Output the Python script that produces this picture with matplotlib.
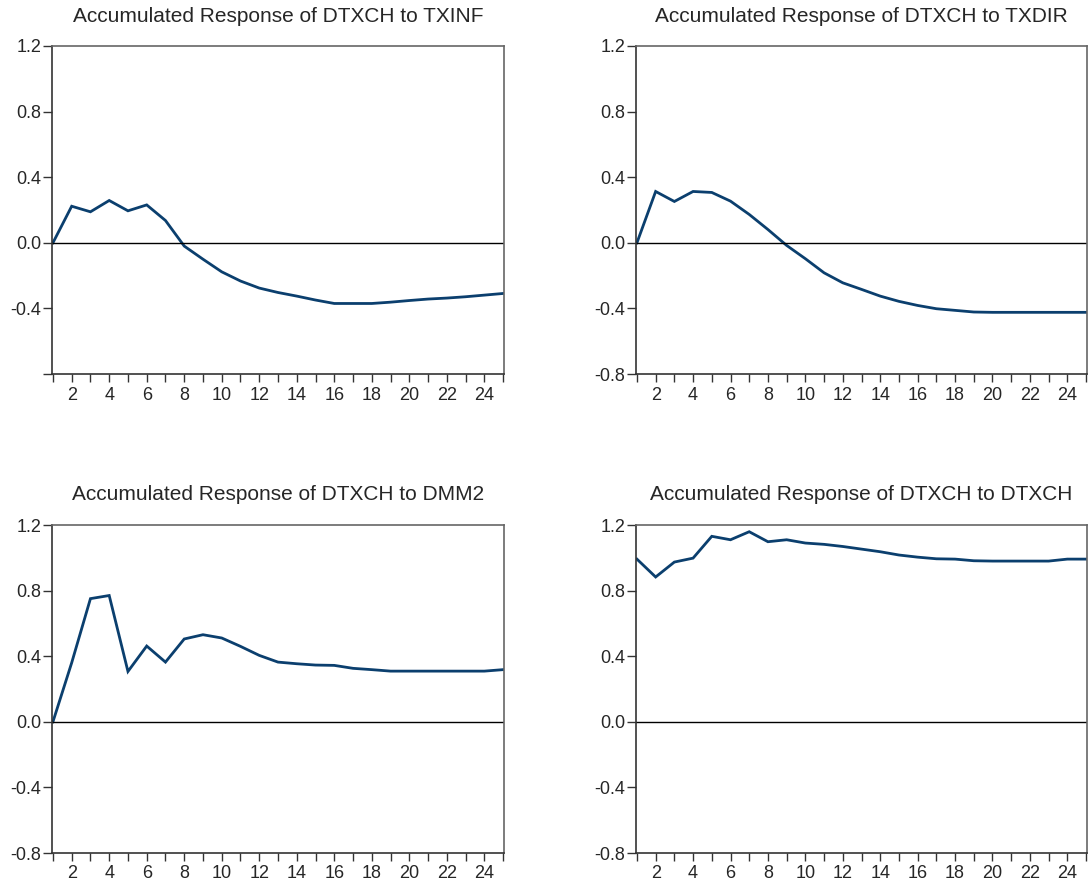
import numpy as np
import matplotlib.pyplot as plt

plt.rcParams['font.family'] = ['Liberation Sans', 'DejaVu Sans']

# accumulated responses of DTXCH, periods 1..25
periods = np.arange(1, 26)

resp_txinf = [0.0, 0.223, 0.189, 0.258, 0.195, 0.231, 0.136, -0.02, -0.10, -0.177,
              -0.233, -0.276, -0.303, -0.325, -0.349, -0.370, -0.370, -0.370, -0.362,
              -0.352, -0.343, -0.337, -0.329, -0.319, -0.309]
resp_txdir = [0.0, 0.313, 0.252, 0.313, 0.307, 0.254, 0.173, 0.081, -0.016, -0.097,
              -0.183, -0.244, -0.284, -0.325, -0.357, -0.382, -0.402, -0.412, -0.422,
              -0.424, -0.424, -0.424, -0.424, -0.424, -0.424]
resp_dmm2 = [0.0, 0.36, 0.751, 0.770, 0.307, 0.462, 0.364, 0.505, 0.531, 0.511,
             0.460, 0.405, 0.364, 0.354, 0.346, 0.344, 0.326, 0.318, 0.309, 0.309,
             0.309, 0.309, 0.309, 0.309, 0.318]
resp_dtxch = [0.992, 0.883, 0.974, 0.998, 1.131, 1.110, 1.159, 1.098, 1.110, 1.090,
              1.082, 1.069, 1.053, 1.037, 1.017, 1.004, 0.994, 0.992, 0.982, 0.980,
              0.980, 0.980, 0.980, 0.992, 0.992]

titles = ['Accumulated Response of DTXCH to TXINF',
          'Accumulated Response of DTXCH to TXDIR',
          'Accumulated Response of DTXCH to DMM2',
          'Accumulated Response of DTXCH to DTXCH']

y_ticks = [-0.8, -0.4, 0.0, 0.4, 0.8, 1.2]
y_labels = ['-0.8', '-0.4', '0.0', '0.4', '0.8', '1.2']
y_labels_first = ['', '-0.4', '0.0', '0.4', '0.8', '1.2']
x_label_ticks = [2, 4, 6, 8, 10, 12, 14, 16, 18, 20, 22, 24]

series = [resp_txinf, resp_txdir, resp_dmm2, resp_dtxch]
ylabel_sets = [y_labels_first, y_labels, y_labels, y_labels]

W, H = 1091, 884
fig = plt.figure(figsize=(W / 100, H / 100), dpi=100)

# panel boxes in pixels: left, top, right, bottom
boxes = [(52, 46, 504, 374), (636, 46, 1087, 374),
         (52, 525, 504, 853), (636, 525, 1087, 853)]

line_col = '#0b3f6e'
text_col = '#262626'

for box, vals, title, ylabs in zip(boxes, series, titles, ylabel_sets):
    l, t, r, b = box
    ax = fig.add_axes([l / W, 1 - b / H, (r - l) / W, (b - t) / H])
    ax.plot(periods, vals, color=line_col, lw=2.0, solid_joinstyle='miter')
    ax.axhline(0, color='black', lw=1.0)
    ax.set_xlim(0.95, 25.05)
    ax.set_ylim(-0.8, 1.2)

    ax.set_yticks(y_ticks)
    ax.set_yticklabels(ylabs)
    ax.set_xticks(periods, minor=True)
    ax.set_xticks(x_label_ticks)
    ax.set_xticklabels([str(v) for v in x_label_ticks])

    ax.tick_params(axis='y', direction='out', length=6.5, width=1.0,
                   color='#333333', labelsize=13, labelcolor=text_col, pad=1)
    ax.tick_params(axis='x', which='both', direction='out', length=5.5, width=1.0,
                   color='#333333', labelsize=13, labelcolor=text_col, pad=3.5)

    for side in ['left', 'bottom']:
        ax.spines[side].set_color('#333333')
        ax.spines[side].set_linewidth(1.2)
    for side in ['top', 'right']:
        ax.spines[side].set_color('#666666')
        ax.spines[side].set_linewidth(1.2)

    fig.text((l + r) / 2 / W, 1 - (t - 30) / H, title, ha='center', va='center',
             fontsize=15, color=text_col)

fig.savefig('out.png', dpi=100)
